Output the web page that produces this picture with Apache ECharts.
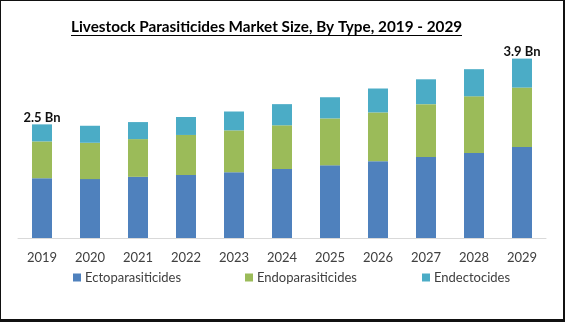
<!DOCTYPE html>
<html>
<head>
<meta charset="utf-8">
<script src="https://cdn.jsdelivr.net/npm/echarts@6/dist/echarts.min.js"></script>
<style>
html,body{margin:0;padding:0;background:#fff;}
#wrap{width:565px;height:322px;box-sizing:border-box;border-style:solid;border-color:#111;border-width:1px 2px 3px 1px;overflow:hidden;}
#chart{width:562px;height:318px;}
</style>
</head>
<body>
<div id="wrap"><div id="chart"></div></div>
<script>
const titleText = 'Livestock Parasiticides Market Size, By Type, 2019 - 2029';
const years = ['2019','2020','2021','2022','2023','2024','2025','2026','2027','2028','2029'];
const seriesNames = ['Ectoparasiticides','Endoparasiticides','Endectocides'];
const ecto = [1.30,1.28,1.33,1.37,1.43,1.50,1.58,1.67,1.76,1.85,1.98];
const endo = [0.80,0.79,0.82,0.87,0.91,0.95,1.02,1.06,1.15,1.23,1.29];
const endecto = [0.37,0.37,0.37,0.39,0.41,0.46,0.46,0.52,0.54,0.59,0.63];
const labelledIdx = [0, 10];
const colors = ['#4f81bd','#9bbb59','#4bacc6'];

const totals = years.map((y,i)=>ecto[i]+endo[i]+endecto[i]);
const chart = echarts.init(document.getElementById('chart'));
const topData = endecto.map((v,i)=>({
  value:v,
  label:{show:labelledIdx.includes(i)}
}));
const titleFont = 'bold 15.3px Lato';
const mctx = document.createElement('canvas').getContext('2d');
mctx.font = titleFont;
const titleW = Math.round(mctx.measureText(titleText).width);
const legendLefts = [67, 239, 416];
const legendBase = {
  top:265,
  itemWidth:8,itemHeight:8,itemGap:0,
  icon:'rect',
  textStyle:{fontFamily:'Lato',fontSize:13,color:'#404040',padding:[0,0,0,-1]}
};
chart.setOption({
  animation:false,
  title:{
    text:titleText,
    left:65, top:14,
    textStyle:{fontFamily:'Lato',fontWeight:'bold',fontSize:15.3,color:'#000'}
  },
  graphic:[{type:'rect',left:70,top:34,shape:{width:titleW,height:1},style:{fill:'#000'}}],
  legend:seriesNames.map((n,i)=>Object.assign({data:[n],left:legendLefts[i]},legendBase)),
  grid:{left:17,right:17,top:30,bottom:81,containLabel:false},
  xAxis:{
    type:'category',data:years,
    axisLine:{lineStyle:{color:'#d9d9d9',width:1}},
    axisTick:{show:false},
    axisLabel:{fontFamily:'Lato',fontSize:13,color:'#404040',margin:13}
  },
  yAxis:{type:'value',min:0,max:4.5,show:false,splitLine:{show:false}},
  series:[
    {name:seriesNames[0],type:'bar',stack:'t',data:ecto,barWidth:20,itemStyle:{color:colors[0]}},
    {name:seriesNames[1],type:'bar',stack:'t',data:endo,barWidth:20,itemStyle:{color:colors[1]}},
    {name:seriesNames[2],type:'bar',stack:'t',data:topData,barWidth:20,itemStyle:{color:colors[2]},
     label:{position:'top',distance:0,fontFamily:'Lato',fontWeight:'bold',fontSize:13,color:'#111',
       formatter:p=>totals[p.dataIndex].toFixed(1)+' Bn'}}
  ]
});
</script>
</body>
</html>
